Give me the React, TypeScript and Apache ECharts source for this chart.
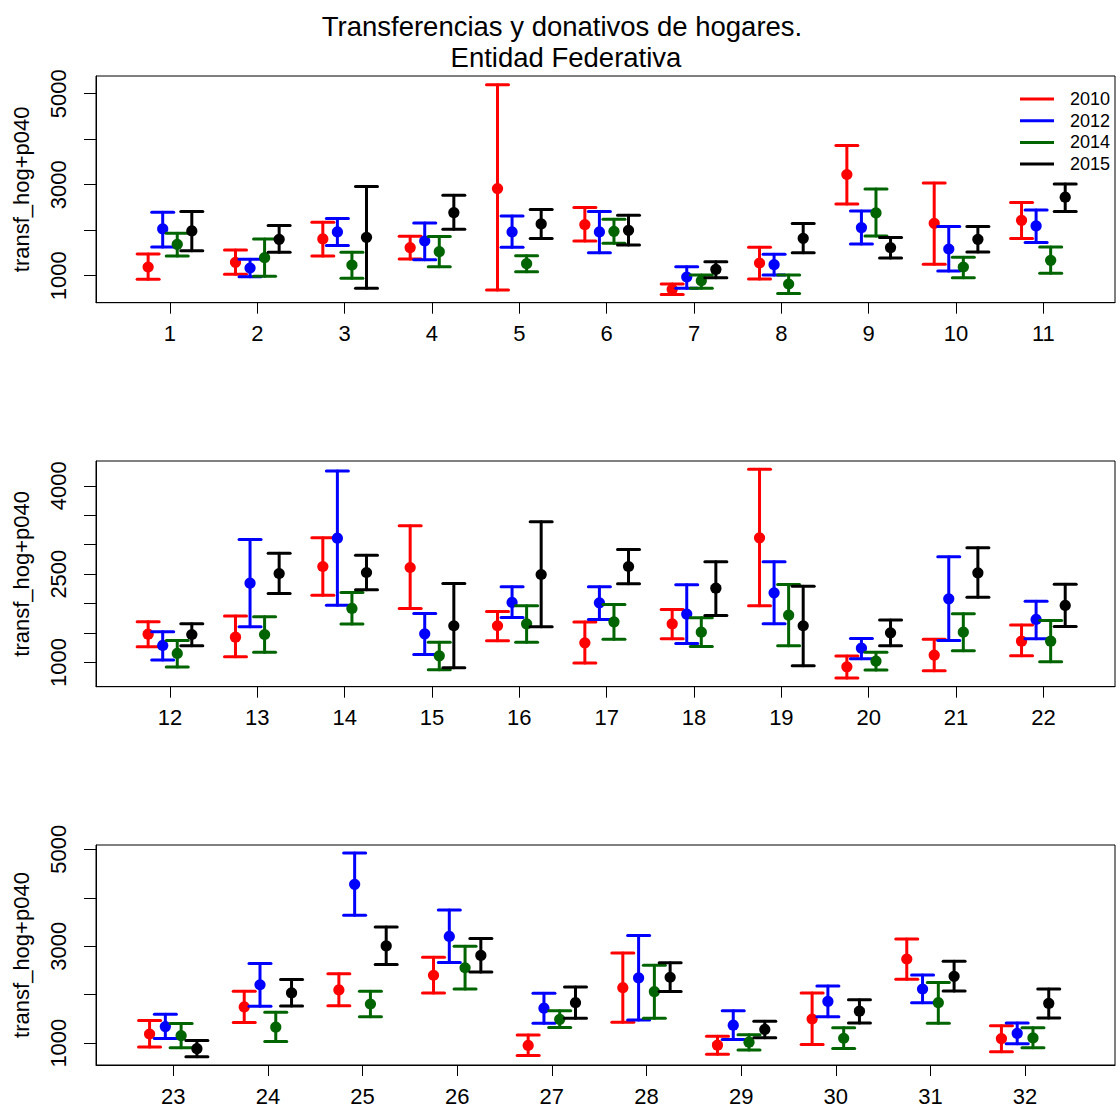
import React, { useEffect, useRef } from 'react';
import * as echarts from 'echarts';

const years = ['2010', '2012', '2014', '2015'];
const colors = ['#FF0000', '#0000FF', '#006400', '#000000'];
const offsets = [-0.25, -0.0833, 0.0833, 0.25];

const categories = Array.from({ length: 32 }, (_, i) => i + 1);

// 2010
const lo2010 = [919, 1029, 1433, 1367, 684, 1763, 589, 927, 2578, 1250, 1815, 1266, 1096, 2143, 1917, 1368, 989, 1402, 1962, 734, 859, 1113, 919, 1424, 1774, 2037, 744, 1431, 771, 973, 2320, 825];
const mean2010 = [1191, 1294, 1807, 1617, 2916, 2123, 699, 1279, 3224, 2152, 2218, 1481, 1430, 2630, 2613, 1623, 1334, 1656, 3117, 926, 1125, 1362, 1189, 1747, 2098, 2401, 953, 2145, 960, 1498, 2737, 1094];
const hi2010 = [1477, 1565, 2174, 1866, 5198, 2497, 817, 1624, 3862, 3040, 2607, 1690, 1787, 3117, 3320, 1866, 1685, 1900, 4282, 1108, 1396, 1634, 1465, 2071, 2434, 2771, 1168, 2859, 1141, 2037, 3148, 1357];
// 2012
const lo2012 = [1631, 978, 1661, 1352, 1624, 1506, 721, 1015, 1697, 1103, 1727, 1040, 1606, 1973, 1136, 1764, 1730, 1323, 1656, 1062, 1374, 1402, 1094, 1761, 3640, 2663, 1411, 1478, 1074, 1545, 1835, 987];
const mean2012 = [2028, 1169, 1961, 1763, 1961, 1961, 971, 1242, 2057, 1587, 2094, 1289, 2347, 3111, 1487, 2019, 2013, 1821, 2183, 1243, 2081, 1730, 1343, 2205, 4279, 3202, 1721, 2347, 1370, 1862, 2118, 1202];
const hi2012 = [2394, 1360, 2255, 2160, 2314, 2409, 1198, 1470, 2424, 2079, 2446, 1521, 3088, 4254, 1832, 2285, 2285, 2319, 2709, 1407, 2794, 2041, 1599, 2643, 4926, 3747, 2030, 3222, 1667, 2178, 2407, 1418];
// 2014
const lo2014 = [1433, 985, 941, 1198, 1088, 1712, 721, 611, 1873, 956, 1051, 921, 1175, 1651, 875, 1345, 1396, 1272, 1283, 870, 1198, 1011, 906, 1034, 1545, 2118, 1323, 1512, 859, 892, 1411, 906];
const mean2014 = [1690, 1396, 1235, 1528, 1264, 1976, 890, 817, 2380, 1191, 1338, 1153, 1475, 1917, 1113, 1656, 1690, 1515, 1804, 1023, 1515, 1362, 1155, 1330, 1808, 2556, 1492, 2064, 1020, 1101, 1835, 1108];
const hi2014 = [1932, 1807, 1514, 1859, 1440, 2240, 1015, 1015, 2908, 1404, 1631, 1374, 1775, 2188, 1345, 1962, 1985, 1758, 2324, 1175, 1826, 1713, 1404, 1640, 2071, 3000, 1667, 2609, 1175, 1316, 2253, 1316];
// 2015
const lo2015 = [1550, 1514, 721, 2020, 1815, 1675, 956, 1506, 1389, 1521, 2409, 1283, 2171, 2234, 909, 1606, 2336, 1798, 943, 1283, 2109, 1611, 717, 1768, 2623, 2468, 1512, 2064, 1114, 1418, 2077, 1519];
const mean2015 = [1983, 1800, 1844, 2387, 2138, 1998, 1139, 1822, 1617, 1800, 2725, 1475, 2511, 2528, 1623, 2494, 2630, 2262, 1623, 1504, 2522, 1968, 886, 2037, 3007, 2811, 1835, 2360, 1283, 1660, 2380, 1822];
const hi2015 = [2409, 2101, 2960, 2769, 2453, 2328, 1308, 2145, 1837, 2079, 3018, 1656, 2856, 2822, 2341, 3388, 2918, 2709, 2296, 1719, 2947, 2330, 1054, 2313, 3397, 3162, 2158, 2657, 1451, 1896, 2690, 2118];

const lows = [lo2010, lo2012, lo2014, lo2015];
const means = [mean2010, mean2012, mean2014, mean2015];
const highs = [hi2010, hi2012, hi2014, hi2015];

// panels: category ranges and axis setup
const panelCats = [categories.slice(0, 11), categories.slice(11, 22), categories.slice(22, 32)];
const panelYTicks = [
  [1000, 2000, 3000, 4000, 5000],
  [1000, 1500, 2000, 2500, 3000, 3500, 4000],
  [1000, 2000, 3000, 4000, 5000],
];
const panelYLabels = [
  [1000, 3000, 5000],
  [1000, 2500, 4000],
  [1000, 3000, 5000],
];
const panelYRange = [
  [406, 5390],
  [588, 4422],
  [549, 5090],
];
const panelXRange = [
  [0.153, 11.82],
  [11.153, 22.82],
  [22.184, 32.95],
];
const panelLayout = [
  { top: 76, height: 226.7 },
  { top: 461, height: 225.7 },
  { top: 845, height: 224.3 },
];

const titleLines = ['Transferencias y donativos de hogares.', 'Entidad Federativa'];

const FONT = "'Liberation Sans', Arial, Helvetica, sans-serif";

export default function App() {
  const ref = useRef<HTMLDivElement>(null);
  useEffect(() => {
    if (!ref.current) return;
    const chart = echarts.init(ref.current, null, { renderer: 'svg' });

    const grids: any[] = [];
    const xAxes: any[] = [];
    const yAxes: any[] = [];
    const series: any[] = [];

    panelCats.forEach((cats, p) => {
      grids.push({
        left: 96,
        width: 1019,
        top: panelLayout[p].top,
        height: panelLayout[p].height,
        show: true,
        borderColor: '#000',
        borderWidth: 1,
        containLabel: false,
      });
      xAxes.push({
        type: 'value',
        gridIndex: p,
        min: panelXRange[p][0],
        max: panelXRange[p][1],
        axisLine: { show: true, lineStyle: { color: '#000', width: 1 } },
        axisTick: { show: true, inside: false, length: 11, customValues: cats, lineStyle: { color: '#000', width: 1 } },
        axisLabel: { show: true, customValues: cats, margin: 20, fontSize: 22, color: '#000', fontFamily: FONT, formatter: (v: number) => String(v) },
        splitLine: { show: false },
      });
      yAxes.push({
        type: 'value',
        gridIndex: p,
        min: panelYRange[p][0],
        max: panelYRange[p][1],
        name: 'transf_hog+p040',
        nameLocation: 'middle',
        nameRotate: 90,
        nameGap: 64,
        nameTextStyle: { fontSize: 22, color: '#000', fontFamily: FONT },
        axisLine: { show: true, lineStyle: { color: '#000', width: 1 } },
        axisTick: { show: true, inside: false, length: 12, customValues: panelYTicks[p], lineStyle: { color: '#000', width: 1 } },
        axisLabel: { show: true, rotate: 90, customValues: panelYLabels[p], margin: 27, fontSize: 22, color: '#000', fontFamily: FONT, formatter: (v: number) => String(v) },
        splitLine: { show: false },
      });

      years.forEach((yr, s) => {
        const data = cats.map((c) => {
          const i = c - 1;
          return [c + offsets[s], lows[s][i], means[s][i], highs[s][i]];
        });
        const color = colors[s];
        series.push({
          type: 'custom',
          name: yr,
          xAxisIndex: p,
          yAxisIndex: p,
          clip: false,
          encode: { x: 0, y: [1, 2, 3] },
          data,
          renderItem: (params: any, api: any) => {
            const x = api.value(0);
            const lo = api.coord([x, api.value(1)]);
            const mid = api.coord([x, api.value(2)]);
            const hi = api.coord([x, api.value(3)]);
            const hw = 11;
            const ls = { stroke: color, lineWidth: 3, lineCap: 'round' };
            return {
              type: 'group',
              children: [
                { type: 'line', shape: { x1: lo[0], y1: lo[1], x2: hi[0], y2: hi[1] }, style: ls },
                { type: 'line', shape: { x1: lo[0] - hw, y1: lo[1], x2: lo[0] + hw, y2: lo[1] }, style: ls },
                { type: 'line', shape: { x1: hi[0] - hw, y1: hi[1], x2: hi[0] + hw, y2: hi[1] }, style: ls },
                { type: 'circle', shape: { cx: mid[0], cy: mid[1], r: 5.6 }, style: { fill: color } },
              ],
            };
          },
        });
      });
    });

    const legendGraphics: any[] = [];
    years.forEach((yr, i) => {
      const y = 99 + 21.7 * i;
      legendGraphics.push({
        type: 'line',
        shape: { x1: 1020, y1: y, x2: 1054, y2: y },
        style: { stroke: colors[i], lineWidth: 3 },
      });
      legendGraphics.push({
        type: 'text',
        x: 1070,
        y,
        style: { text: yr, fontSize: 18, fontFamily: FONT, fill: '#000', verticalAlign: 'middle', textAlign: 'left' },
      });
    });

    chart.setOption({
      animation: false,
      backgroundColor: '#fff',
      grid: grids,
      xAxis: xAxes,
      yAxis: yAxes,
      series,
      graphic: [
        {
          type: 'text',
          x: 562,
          y: 26,
          style: { text: titleLines[0], fontSize: 27.5, fontFamily: FONT, fill: '#000', textAlign: 'center', verticalAlign: 'middle' },
        },
        {
          type: 'text',
          x: 566,
          y: 57,
          style: { text: titleLines[1], fontSize: 27.5, fontFamily: FONT, fill: '#000', textAlign: 'center', verticalAlign: 'middle' },
        },
        ...legendGraphics,
      ],
    });

    return () => chart.dispose();
  }, []);

  return (
    <div
      ref={ref}
      style={{ position: 'absolute', left: 0, top: 0, width: 1118, height: 1107, background: '#fff' }}
    />
  );
}
